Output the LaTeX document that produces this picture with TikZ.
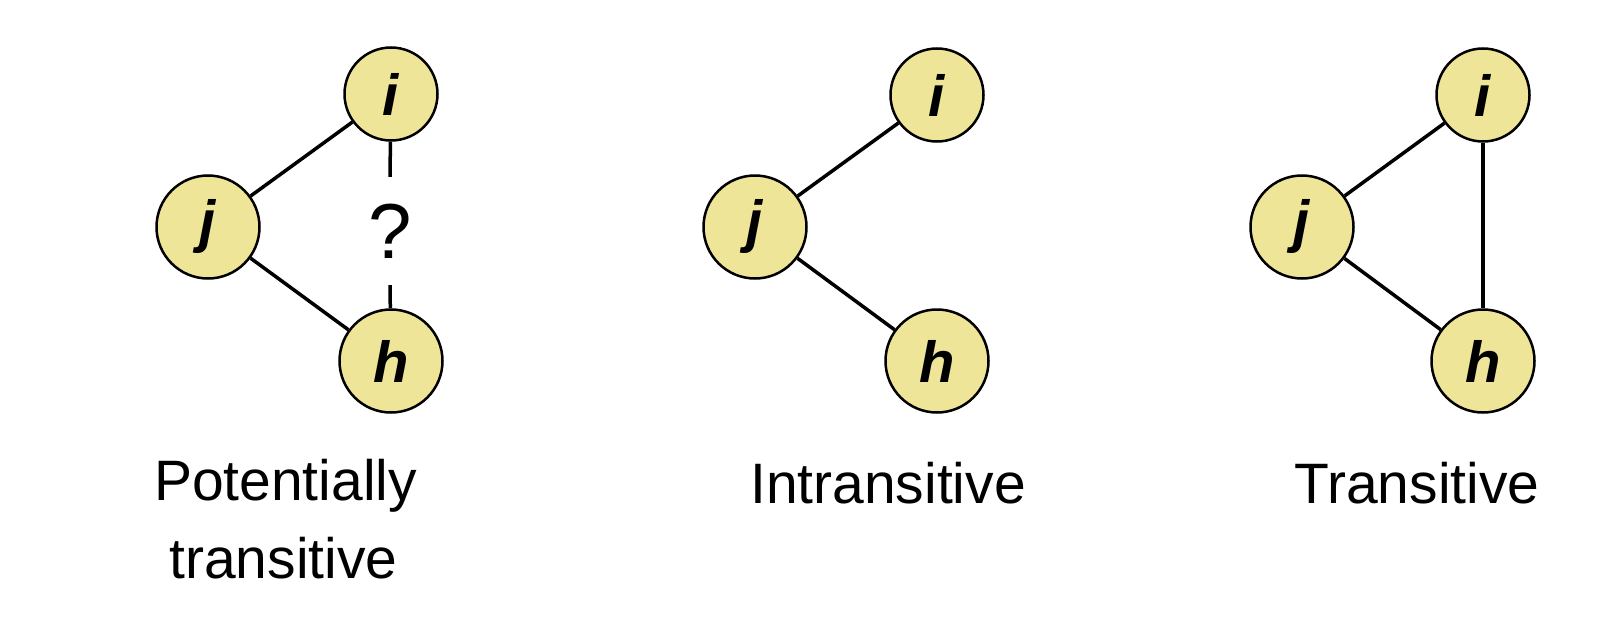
\documentclass[tikz,border=0pt]{standalone}
\usepackage{fontspec}
\setmainfont{Liberation Sans}
\definecolor{nodefill}{RGB}{238,229,153}
\begin{document}
\begin{tikzpicture}[x=1pt,y=-1pt,
  vert/.style={circle,draw=black,line width=2.5pt,fill=nodefill,inner sep=0pt,
    font=\fontsize{58}{58}\selectfont\bfseries\itshape},
  smallv/.style={vert,minimum size=93pt},
  bigv/.style={vert,minimum size=103pt},
  tie/.style={line width=3.5pt},
  qmark/.style={inner sep=0pt,minimum height=108pt,font=\fontsize{78}{78}\selectfont},
  lbl/.style={anchor=base,inner sep=0pt,font=\fontsize{57}{57}\selectfont}]
\useasboundingbox (0,0) rectangle (1622,618);
% group 1
\node[smallv] (i1) at (391,94) {i};
\node[bigv] (j1) at (208,227) {j};
\node[bigv] (h1) at (391,361) {h};
\node[qmark] (q1) at (390,231) {?};
\draw[tie] (j1) -- (i1);
\draw[tie] (j1) -- (h1);
\draw[tie] (i1) -- (q1.north);
\draw[tie] (q1.south) -- (h1);
\node[lbl] (t1a) at (285.5,500) {Potentially};
\node[lbl] (t1b) at (283.5,578) {transitive};
% group 2
\node[smallv] (i2) at (937,95) {i};
\node[bigv] (j2) at (755,227) {j};
\node[bigv] (h2) at (937,361) {h};
\draw[tie] (j2) -- (i2);
\draw[tie] (j2) -- (h2);
\node[lbl] (t2) at (888,503) {Intransitive};
% group 3
\node[smallv] (i3) at (1483,95) {i};
\node[bigv] (j3) at (1302,227) {j};
\node[bigv] (h3) at (1483,361) {h};
\draw[tie] (j3) -- (i3);
\draw[tie] (j3) -- (h3);
\draw[tie] (i3) -- (h3);
\node[lbl] (t3) at (1417,503) {Transitive};
\end{tikzpicture}
\end{document}
